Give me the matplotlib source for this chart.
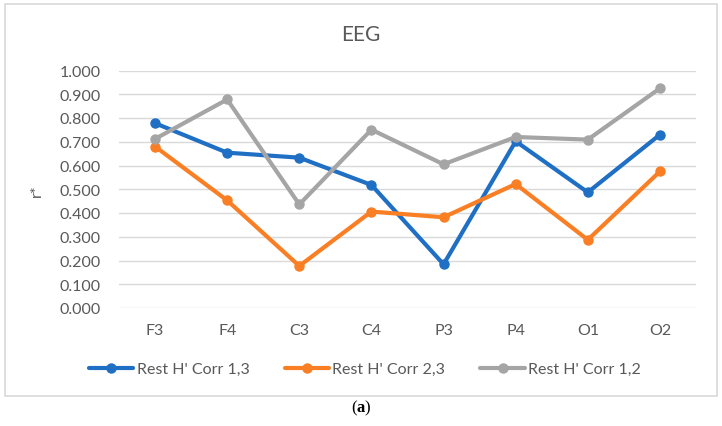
import matplotlib
matplotlib.use("Agg")
import matplotlib.pyplot as plt
from matplotlib.patches import Rectangle

categories = ["F3", "F4", "C3", "C4", "P3", "P4", "O1", "O2"]
corr_13 = [0.778, 0.654, 0.633, 0.518, 0.184, 0.702, 0.487, 0.730]
corr_23 = [0.680, 0.453, 0.177, 0.406, 0.382, 0.522, 0.287, 0.575]
corr_12 = [0.712, 0.878, 0.436, 0.751, 0.605, 0.720, 0.709, 0.925]
series_labels = ["Rest H' Corr 1,3", "Rest H' Corr 2,3", "Rest H' Corr 1,2"]
yticks = [0.0, 0.1, 0.2, 0.3, 0.4, 0.5, 0.6, 0.7, 0.8, 0.9, 1.0]

colors = ["#1F6FC4", "#FA7F24", "#A5A5A5"]
text_color = "#595959"
font = ["Lato", "DejaVu Sans"]
fs = 11.5

plt.rcParams['mathtext.fontset'] = 'custom'
plt.rcParams['mathtext.bf'] = 'Liberation Serif:bold'
plt.rcParams['mathtext.rm'] = 'Liberation Serif'

W, H = 722, 427
fig = plt.figure(figsize=(W / 100, H / 100), dpi=100)
ax = fig.add_axes([119 / W, 1 - 309 / H, (696 - 119) / W, (309 - 71.5) / H])

x = list(range(len(categories)))
for vals, c, lab in zip([corr_13, corr_23, corr_12], colors, series_labels):
    ax.plot(x, vals, color=c, lw=3.0, marker='o', ms=6.5, label=lab,
            solid_capstyle='round', zorder=3)

ax.set_xlim(-0.5, len(categories) - 0.5)
ax.set_ylim(0, 1.0)
ax.set_yticks(yticks)
ax.set_yticklabels([f"{v:.3f}" for v in yticks], fontfamily=font,
                   fontsize=fs, color=text_color)
ax.set_xticks(x)
ax.set_xticklabels(categories, fontfamily=font, fontsize=fs, color=text_color)
ax.tick_params(axis='both', length=0)
ax.tick_params(axis='y', pad=13)
ax.tick_params(axis='x', pad=11)
ax.grid(axis='y', color='#D9D9D9', lw=1.0, zorder=0)
for s in ax.spines.values():
    s.set_visible(False)
ax.set_ylabel("r*", fontfamily=font, fontsize=fs, color=text_color)
ax.yaxis.set_label_coords(-(119 - 44) / (696 - 119), 0.5)

fig.text(0.5, 1 - 35 / H, "EEG", ha='center', va='center', fontfamily=font,
         fontsize=15, color=text_color)

leg = fig.legend(loc='center', bbox_to_anchor=(365 / W, 1 - 370 / H), ncol=3,
                 frameon=False, handlelength=2.8, handletextpad=0.2,
                 columnspacing=2.2, prop={'family': font, 'size': fs})
for t in leg.get_texts():
    t.set_color(text_color)

fig.patches.append(Rectangle((5 / W, 1 - 397 / H), (717 - 5) / W, (397 - 5) / H,
                             transform=fig.transFigure, fill=False,
                             edgecolor='#D9D9D9', lw=1.2))

fig.text(361 / W, 1 - 408 / H, r"($\mathbf{a}$)", ha='center', va='center',
         fontfamily='Liberation Serif', fontsize=12, color='black')

fig.savefig("out.png", dpi=100)
